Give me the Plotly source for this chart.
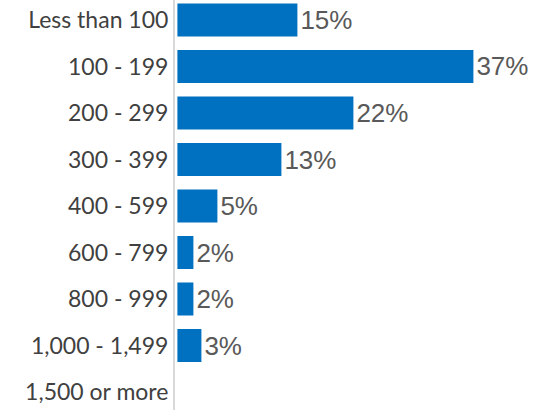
import plotly.graph_objects as go

# Share of respondents by size band
categories = ["Less than 100", "100 - 199", "200 - 299", "300 - 399", "400 - 599",
              "600 - 799", "800 - 999", "1,000 - 1,499", "1,500 or more"]
percent = [15, 37, 22, 13, 5, 2, 2, 3, 0]
labels = [f"{v}%" if v > 0 else "" for v in percent]

fig = go.Figure(
    go.Bar(
        x=percent,
        y=categories,
        orientation="h",
        text=labels,
        textposition="outside",
        textfont=dict(family="Liberation Sans, Arial", size=26, color="#595959"),
        constraintext="none",
        cliponaxis=False,
        marker=dict(color="#0070C0", line=dict(width=0)),
        width=0.71,
        hoverinfo="skip",
    )
)

fig.update_layout(
    width=544,
    height=410,
    margin=dict(l=175, r=0, t=0, b=0),
    paper_bgcolor="white",
    plot_bgcolor="white",
    showlegend=False,
    xaxis=dict(range=[-0.3, 45.825], visible=False, showgrid=False, zeroline=False),
    yaxis=dict(
        type="category",
        categoryorder="array",
        categoryarray=categories,
        range=[8.387, -0.43],
        showline=True,
        linecolor="#d9d9d9",
        linewidth=2,
        showgrid=False,
        zeroline=False,
        ticks="",
        ticklabelstandoff=0,
        tickfont=dict(family="Lato", size=23, color="#404040"),
    ),
)

fig.write_html("out.html")
